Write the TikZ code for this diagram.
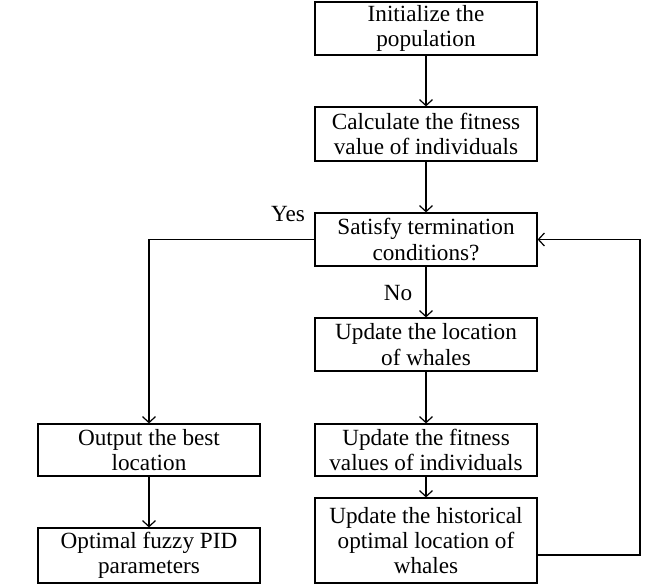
\documentclass[tikz,border=0pt]{standalone}
\usepackage{fontspec}
\setmainfont{Liberation Serif}
\usepackage{tikz}
\usetikzlibrary{arrows.meta}

\begin{document}
\begin{tikzpicture}[x=0.5pt, y=-0.5pt,
    stepbox/.style={draw, line width=0.6pt, minimum width=111pt, align=center,
        inner sep=0pt, font=\fontsize{11.6}{12.6}\selectfont},
    arr/.style={line width=0.6pt, -{Straight Barb[length=3pt, width=6.5pt]}},
    lbl/.style={font=\fontsize{11.6}{12.6}\selectfont, inner sep=0pt}]
    \useasboundingbox (0,0) rectangle (652,584);

    \node[stepbox, minimum height=26.5pt] (init) at (426, 28.5) {Initialize the\\population};
    \node[stepbox, minimum height=27pt] (calc) at (426, 134) {Calculate the fitness\\value of individuals};
    \node[stepbox, minimum height=26.5pt] (sat) at (426, 239.5) {Satisfy termination\\conditions?};
    \node[stepbox, minimum height=26.5pt] (upd) at (426, 344.5) {Update the location\\of whales};
    \node[stepbox, minimum height=26pt] (fit) at (426, 450) {Update the fitness\\values of individuals};
    \node[stepbox, minimum height=42.5pt] (hist) at (426, 540.5) {Update the historical\\optimal location of\\whales};

    \node[stepbox, minimum height=26pt] (out) at (149, 450) {Output the best\\location};
    \node[stepbox, minimum height=27.5pt] (opt) at (149, 555.5) {Optimal fuzzy PID\\parameters};

    \node[lbl] (yes) at (288, 214) {Yes};
    \node[lbl] (no) at (398, 293) {No};

    \draw[arr] (init) -- (calc);
    \draw[arr] (calc) -- (sat);
    \draw[arr] (sat) -- (upd);
    \draw[arr] (upd) -- (fit);
    \draw[arr] (fit) -- (hist);
    \draw[arr] (sat.west) -| (out.north);
    \draw[arr] (out) -- (opt);

    % back to the test
    \coordinate (back) at (640, 555);
    \draw[arr] (hist.east |- back) -- (back) |- (sat.east);
\end{tikzpicture}
\end{document}
